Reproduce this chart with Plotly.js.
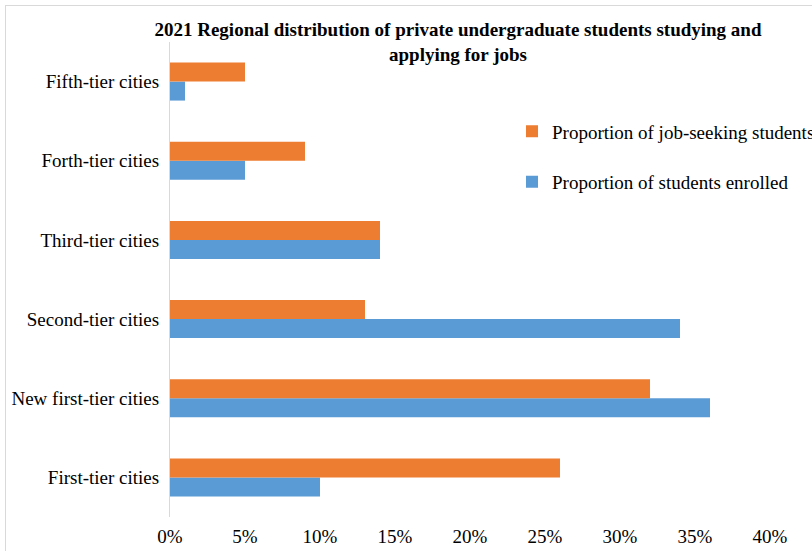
<!DOCTYPE html>
<html>
<head>
<meta charset="utf-8">
<script src="https://cdn.plot.ly/plotly-3.0.1.min.js"></script>
<style>
  html, body { margin: 0; padding: 0; background: #fff; overflow: hidden; }
  #chart { position: absolute; left: 0; top: 0; width: 850px; height: 551px; }
  #frame { position: absolute; left: 5px; top: 5px; width: 830px; height: 570px;
           border: 1px solid #d9d9d9; pointer-events: none; z-index: 10; }
</style>
</head>
<body>
<div id="chart"></div>
<div id="frame"></div>
<script>
const categories = ["First-tier cities", "New first-tier cities", "Second-tier cities",
                    "Third-tier cities", "Forth-tier cities", "Fifth-tier cities"];
const enrolled   = [0.10, 0.36, 0.34, 0.14, 0.05, 0.01];
const jobSeeking = [0.26, 0.32, 0.13, 0.14, 0.09, 0.05];
const xTickVals  = [0, 0.05, 0.10, 0.15, 0.20, 0.25, 0.30, 0.35, 0.40];
const xTickText  = ["0%", "5%", "10%", "15%", "20%", "25%", "30%", "35%", "40%"];

const font = "'Liberation Serif', 'Times New Roman', serif";

const traces = [
  { type: "bar", orientation: "h", name: "Proportion of students enrolled",
    y: categories, x: enrolled, marker: { color: "#5B9BD5" },
    legendgroup: "b", legendrank: 2 },
  { type: "bar", orientation: "h", name: "Proportion of job-seeking students",
    y: categories, x: jobSeeking, marker: { color: "#ED7D31" },
    legendgroup: "a", legendrank: 1 }
];

const layout = {
  width: 850, height: 551,
  margin: { l: 170, r: 80, t: 42, b: 34 },
  paper_bgcolor: "#fff", plot_bgcolor: "#fff",
  font: { family: font, size: 19, color: "#000" },
  title: {
    text: "<b>2021 Regional distribution of private undergraduate students studying and<br>applying for jobs</b>",
    font: { family: font, size: 19, color: "#000" },
    x: 458 / 850, xanchor: "center", xref: "container",
    y: 0.935, yanchor: "middle", yref: "container"
  },
  barmode: "group",
  bargap: 0.52,
  bargroupgap: 0,
  xaxis: {
    range: [0, 0.40], tickvals: xTickVals, ticktext: xTickText,
    showgrid: false, zeroline: false, showline: false, ticks: "",
    ticklabelstandoff: 6, fixedrange: true
  },
  yaxis: {
    type: "category", categoryorder: "array", categoryarray: categories,
    showgrid: false, zeroline: false, showline: true, linecolor: "#d9d9d9", linewidth: 1,
    ticks: "", ticklabelstandoff: 6, fixedrange: true
  },
  showlegend: true,
  legend: {
    x: 0.57, xanchor: "left", y: 0.852, yanchor: "top",
    traceorder: "grouped", tracegroupgap: 23,
    font: { family: font, size: 19, color: "#000" },
    bgcolor: "rgba(0,0,0,0)"
  }
};

Plotly.newPlot("chart", traces, layout, { displayModeBar: false, staticPlot: true });
</script>
</body>
</html>
